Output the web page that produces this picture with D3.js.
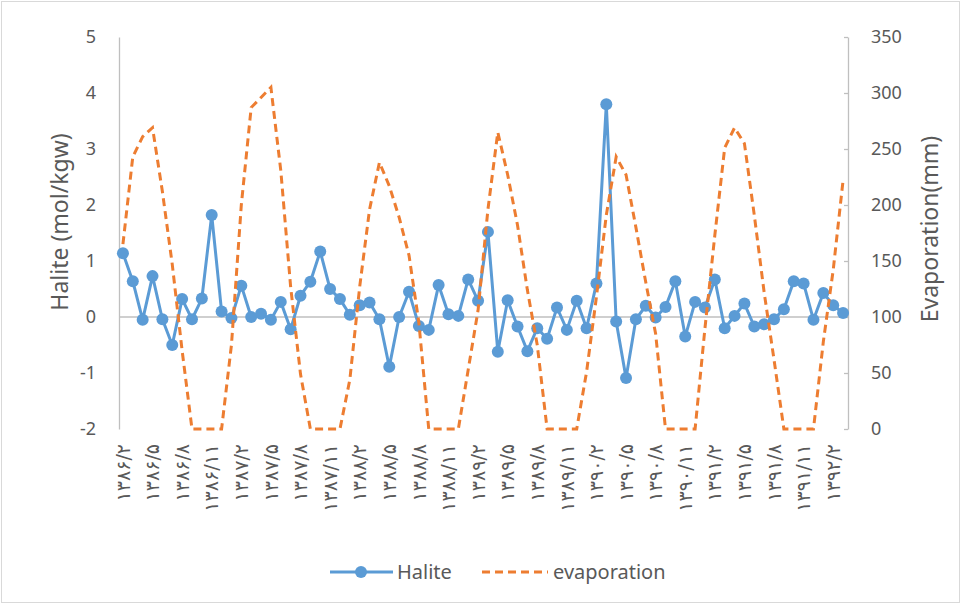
<!DOCTYPE html>
<html><head><meta charset="utf-8">
<script src="https://cdn.jsdelivr.net/npm/d3@7"></script>
<style>body{margin:0;background:#fff}svg{display:block}</style>
</head><body>
<svg id="c" width="964" height="607"></svg>
<script>
// ---- data ----
const categories = [
 "1386/2","1386/3","1386/4","1386/5","1386/6","1386/7","1386/8","1386/9","1386/10","1386/11","1386/12",
 "1387/1","1387/2","1387/3","1387/4","1387/5","1387/6","1387/7","1387/8","1387/9","1387/10","1387/11","1387/12",
 "1388/1","1388/2","1388/3","1388/4","1388/5","1388/6","1388/7","1388/8","1388/9","1388/10","1388/11","1388/12",
 "1389/1","1389/2","1389/3","1389/4","1389/5","1389/6","1389/7","1389/8","1389/9","1389/10","1389/11","1389/12",
 "1390/1","1390/2","1390/3","1390/4","1390/5","1390/6","1390/7","1390/8","1390/9","1390/10","1390/11","1390/12",
 "1391/1","1391/2","1391/3","1391/4","1391/5","1391/6","1391/7","1391/8","1391/9","1391/10","1391/11","1391/12",
 "1392/1","1392/2","1392/3"];
const tickLabels = ["۱۳۸۶/۲","۱۳۸۶/۵","۱۳۸۶/۸","۱۳۸۶/۱۱","۱۳۸۷/۲","۱۳۸۷/۵","۱۳۸۷/۸","۱۳۸۷/۱۱",
 "۱۳۸۸/۲","۱۳۸۸/۵","۱۳۸۸/۸","۱۳۸۸/۱۱","۱۳۸۹/۲","۱۳۸۹/۵","۱۳۸۹/۸","۱۳۸۹/۱۱",
 "۱۳۹۰/۲","۱۳۹۰/۵","۱۳۹۰/۸","۱۳۹۰/۱۱","۱۳۹۱/۲","۱۳۹۱/۵","۱۳۹۱/۸","۱۳۹۱/۱۱","۱۳۹۲/۲"];
const halite = [1.14,0.64,-0.05,0.73,-0.04,-0.50,0.32,-0.04,0.33,1.82,0.10,
 -0.02,0.56,0.00,0.06,-0.05,0.27,-0.22,0.38,0.63,1.17,0.50,0.32,
 0.04,0.21,0.26,-0.04,-0.89,0.00,0.45,-0.16,-0.23,0.57,0.05,0.02,
 0.67,0.29,1.52,-0.62,0.30,-0.17,-0.61,-0.20,-0.39,0.17,-0.23,0.29,
 -0.20,0.60,3.80,-0.08,-1.09,-0.04,0.20,-0.01,0.18,0.64,-0.35,0.27,
 0.17,0.67,-0.20,0.02,0.24,-0.17,-0.13,-0.04,0.14,0.64,0.60,-0.05,
 0.43,0.21,0.07];
const evaporation = [165,243,261,269,212,147,70,0,0,0,0,
 75,200,287,296,305,231,127,49,0,0,0,0,
 44,127,196,238,217,189,155,95,0,0,0,0,
 53,106,196,265,227,182,124,75,0,0,0,0,
 51,118,191,243,227,180,131,85,0,0,0,0,
 90,173,251,269,255,191,122,62,0,0,0,0,
 78,142,222];
const leftTicks = [-2,-1,0,1,2,3,4,5];
const rightTicks = [0,50,100,150,200,250,300,350];
const seriesNames = ["Halite","evaporation"];

// ---- layout ----
const svg = d3.select("#c");
const L = 118, R = 848, T = 37, B = 429;
const blue = "#5b9bd5", orange = "#ed7d31", txt = "#595959", grid = "#bfbfbf";
const font = "Noto Sans, sans-serif";

svg.append("rect").attr("x",1.5).attr("y",1.5).attr("width",958).attr("height",601)
  .attr("fill","#fff").attr("stroke","#d9d9d9");

const x = d3.scaleBand().domain(categories).range([L,R]);
const xc = d => x(d) + x.bandwidth()/2;
const yL = d3.scaleLinear().domain([-2,5]).range([B,T]);
const yR = d3.scaleLinear().domain([0,350]).range([B,T]);

// left axis
const gl = svg.append("g").attr("transform",`translate(${L+1},0)`)
  .call(d3.axisLeft(yL).tickValues(leftTicks).tickSize(0).tickPadding(23).tickFormat(d=>String(d)));
gl.select(".domain").attr("stroke",grid).attr("stroke-width",1.3);
gl.selectAll("text").attr("fill",txt).style("font-family",font).style("font-size","18px");

// right axis
const gr = svg.append("g").attr("transform",`translate(${R},0)`)
  .call(d3.axisRight(yR).tickValues(rightTicks).tickSizeInner(-4).tickSizeOuter(0).tickPadding(23));
gr.select(".domain").attr("stroke",grid).attr("stroke-width",1.3);
gr.selectAll("line").attr("stroke",grid).attr("stroke-width",1.3);
gr.selectAll("text").attr("fill",txt).style("font-family",font).style("font-size","18px");

// zero (category) axis line
svg.append("line").attr("x1",L+1).attr("x2",R).attr("y1",yL(0)).attr("y2",yL(0))
  .attr("stroke",grid).attr("stroke-width",1.3);

// category labels at bottom
const tickCats = categories.filter((d,i)=>i%3===0);
const gx = svg.append("g").attr("transform",`translate(0,${B})`)
  .call(d3.axisBottom(x).tickValues(tickCats).tickSize(0).tickFormat((d,i)=>tickLabels[i]));
gx.select(".domain").remove();
gx.selectAll("text")
  .attr("fill",txt)
  .style("font-family","DejaVu Sans, sans-serif").style("font-size","19px")
  .attr("direction","ltr")
  .attr("text-anchor","end")
  .attr("dy","0.35em")
  .attr("transform","translate(0,15) rotate(-90)")
  .attr("x",0).attr("y",0);

// axis titles
svg.append("text").attr("transform",`translate(68,222) rotate(-90)`)
  .attr("text-anchor","middle").attr("fill",txt)
  .style("font-family",font).style("font-size","23px")
  .text("Halite (mol/kgw)");
svg.append("text").attr("transform",`translate(938,229) rotate(-90)`)
  .attr("text-anchor","middle").attr("fill",txt)
  .style("font-family",font).style("font-size","23px")
  .text("Evaporation(mm)");

// halite line + markers
const lineL = d3.line().x((d,i)=>xc(categories[i])).y(d=>yL(d));
svg.append("path").datum(halite).attr("d",lineL).attr("fill","none")
  .attr("stroke",blue).attr("stroke-width",3).attr("stroke-linejoin","round");
svg.append("g").selectAll("circle").data(halite).join("circle")
  .attr("cx",(d,i)=>xc(categories[i])).attr("cy",d=>yL(d)).attr("r",6).attr("fill",blue);

// evaporation line
const lineR = d3.line().x((d,i)=>xc(categories[i])).y(d=>yR(d));
svg.append("path").datum(evaporation).attr("d",lineR).attr("fill","none")
  .attr("stroke",orange).attr("stroke-width",3).attr("stroke-dasharray","8,5");

// legend
const lg = svg.append("g").attr("transform","translate(0,572)");
lg.append("line").attr("x1",330).attr("x2",393).attr("y1",0).attr("y2",0).attr("stroke",blue).attr("stroke-width",3);
lg.append("circle").attr("cx",361).attr("cy",0).attr("r",6).attr("fill",blue);
lg.append("text").attr("x",397).attr("y",0).attr("dy","0.35em").attr("fill",txt)
  .style("font-family",font).style("font-size","20px").text(seriesNames[0]);
lg.append("line").attr("x1",482).attr("x2",548).attr("y1",0).attr("y2",0).attr("stroke",orange)
  .attr("stroke-width",3).attr("stroke-dasharray","8,5");
lg.append("text").attr("x",553).attr("y",0).attr("dy","0.35em").attr("fill",txt)
  .style("font-family",font).style("font-size","20px").text(seriesNames[1]);
</script>
</body></html>
